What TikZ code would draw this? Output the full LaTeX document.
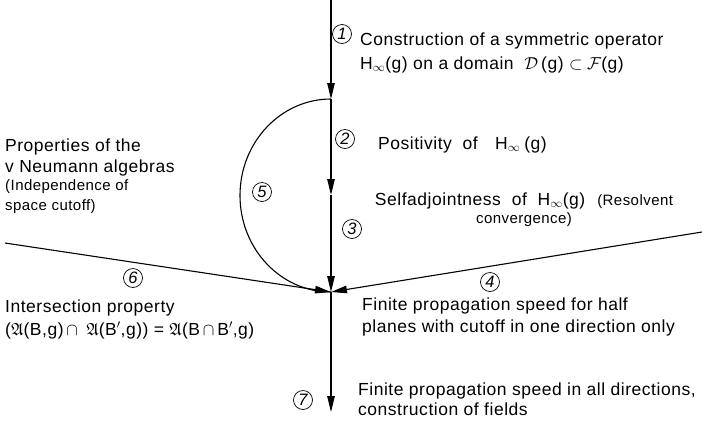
\documentclass[tikz,border=0pt]{standalone}
\usepackage{amsmath}
\usepackage{amssymb}
\usepackage{fontspec}
\setmainfont{Liberation Sans}[LetterSpace=3]
\usetikzlibrary{arrows.meta, positioning}
\tikzstyle{arrow}   = [line width=1.1pt, -{Triangle[length=16pt,width=7.5pt]}]
\tikzstyle{line}    = [line width=1.1pt]
\tikzstyle{numcirc} = [circle, draw, line width=0.7pt, inner sep=0pt, minimum size=19pt, font=\itshape\fontsize{16.5}{16}\selectfont]
\tikzstyle{txt}     = [inner sep=0pt, anchor=base west, font=\fontsize{17.5}{23}\selectfont]
\tikzstyle{smalltxt}= [inner sep=0pt, anchor=base west, font=\fontsize{15}{20}\selectfont]
\tikzset{every node/.style={align=left}}

\begin{document}
\begin{tikzpicture}[x=1pt, y=-1pt]
    \useasboundingbox (0,0) rectangle (702,424);

    % the spine and the junction
    \coordinate (top) at (331,0);
    \coordinate (a)   at (331,99);
    \coordinate (m)   at (331,195);
    \coordinate (j)   at (331,292);
    \coordinate (bot) at (331,412);
    \coordinate (lft) at (5,243);
    \coordinate (rgt) at (702,232);

    \draw [arrow] (top) -- (a);
    \draw [arrow] (a)   -- (m);
    \draw [arrow] (m)   -- (j);
    \draw [arrow] (j)   -- (bot);
    \draw [line]  (a) arc[start angle=-90, end angle=-270, x radius=91, y radius=96.5];
    \draw [arrow] (lft) -- (j);
    \draw [arrow] (rgt) -- (j);

    % step numbers
    \node (n1) [numcirc] at (342,34)  {1};
    \node (n2) [numcirc] at (345,139) {2};
    \node (n3) [numcirc] at (352,229) {3};
    \node (n4) [numcirc] at (490,282) {4};
    \node (n5) [numcirc] at (262,192) {5};
    \node (n6) [numcirc] at (133,278) {6};
    \node (n7) [numcirc] at (303,400) {7};

    % texts (base = last line)
    \node (cons) [txt] at (360,69)  {Construction of a symmetric operator\\[1pt]H$_\infty$(g) on a domain \ $\mathcal{D}$\,(g) $\subset\mathcal{F}$(g)};
    \node (pos)  [txt] at (378,149) {Positivity \ of \hspace{12pt}H$_\infty$\hspace{4pt}(g)};
    \node (prop) [txt] at (5,172)   {Properties of the\\[-2pt]v Neumann algebras};
    \node (ind)  [smalltxt] at (5,210) {(Independence of\\space cutoff)};
    \node (self) [txt, align=center, anchor=base] at (524,223) {Selfadjointness \ of \ H$_\infty$(g)\hspace{12pt}{\fontsize{15}{20}\selectfont(Resolvent}\\[-5pt]{\fontsize{15}{20}\selectfont convergence)}};
    \node (inter)[txt] at (5,335)   {Intersection property\\($\mathfrak{A}$(B,g)$\,\cap\,$ $\mathfrak{A}$(B$'$,g)) = $\mathfrak{A}$(B$\,\cap\,$B$'$,g)};
    \node (half) [txt] at (362,332) {Finite propagation speed for half\\[-1pt]planes with cutoff in one direction only};
    \node (all)  [txt] at (358,415) {Finite propagation speed in all directions,\\[-3pt]construction of fields};
\end{tikzpicture}
\end{document}
